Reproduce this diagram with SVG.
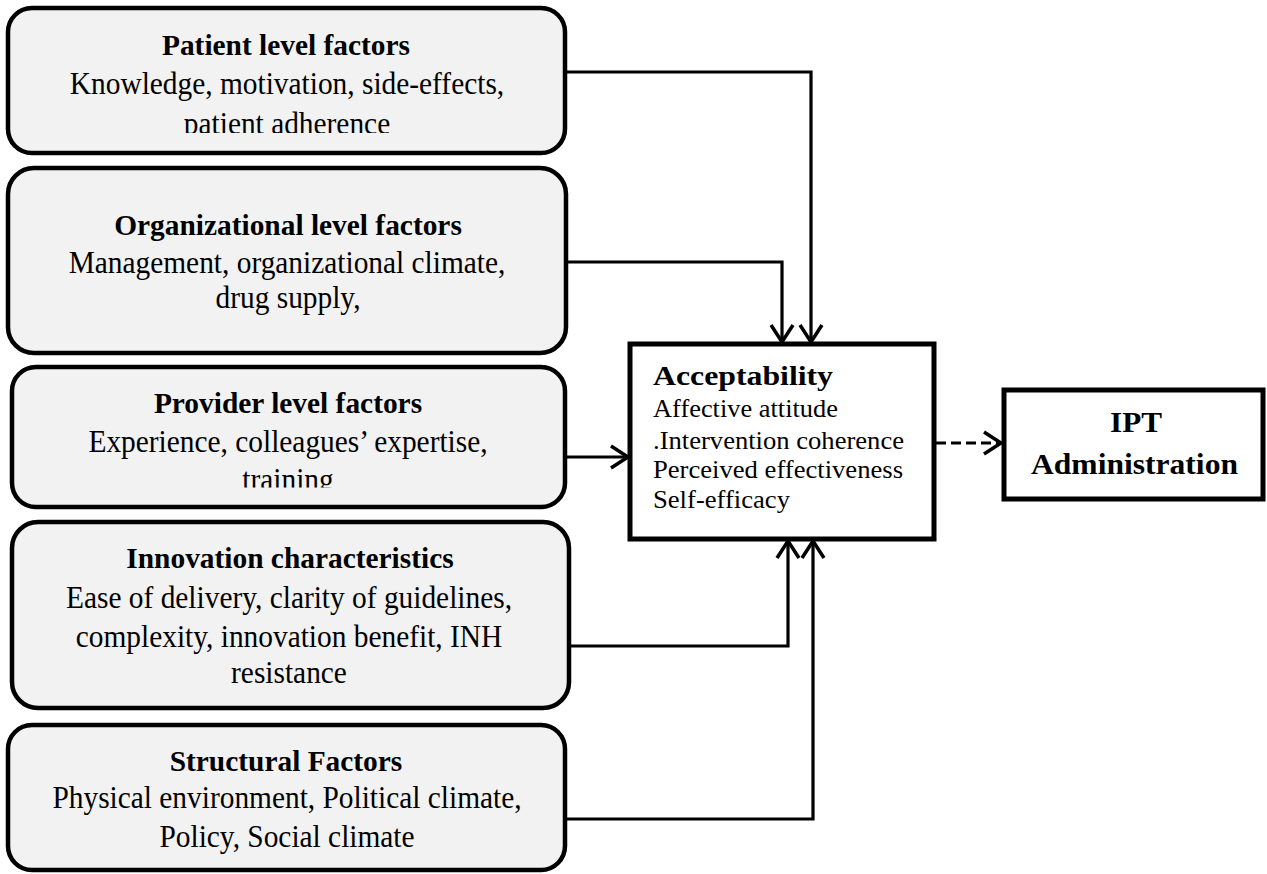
<svg xmlns="http://www.w3.org/2000/svg" width="1267" height="874" viewBox="0 0 1267 874">
<style>
.box{fill:#f2f2f2;stroke:#000;stroke-width:4.5}
.rbox{fill:#fff;stroke:#000;stroke-width:5}
.t{font-family:"Liberation Serif","Times New Roman",serif;font-size:29.4px;fill:#000;text-anchor:middle}
.b{font-weight:bold}
.a{font-family:"Liberation Serif","Times New Roman",serif;font-size:25px;fill:#000}
.c{fill:none;stroke:#000;stroke-width:3.2}
</style>
<defs>
<marker id="arr" markerWidth="24" markerHeight="26" refX="19" refY="13" orient="auto" markerUnits="userSpaceOnUse">
<path d="M2,2 L19,13 L2,24" fill="none" stroke="#000" stroke-width="3.5"/>
</marker>
<clipPath id="clip1"><rect x="0" y="0" width="600" height="133"/></clipPath>
<clipPath id="clip3"><rect x="0" y="360" width="600" height="127.5"/></clipPath>
</defs>
<g id="connectors">
<path class="c" d="M565,72 H811 V342" marker-end="url(#arr)"/>
<path class="c" d="M565,262 H782 V342" marker-end="url(#arr)"/>
<path class="c" d="M565,457 H628" marker-end="url(#arr)"/>
<path class="c" d="M567,646 H788 V541" marker-end="url(#arr)"/>
<path class="c" d="M565,819 H813 V541" marker-end="url(#arr)"/>
<path class="c" d="M936,443 H1001" stroke-width="4" stroke-dasharray="10,5" marker-end="url(#arr)"/>
</g>
<g id="patient">
<rect class="box" x="8" y="8" width="557" height="145" rx="24"/>
<text class="t b" x="286" y="55">Patient level factors</text>
<g clip-path="url(#clip1)">
<text class="t" transform="translate(287,94) scale(1,1.08)">Knowledge, motivation, side-effects,</text>
<text class="t" transform="translate(287,134) scale(1,1.08)">patient adherence</text>
</g>
</g>
<g id="organizational">
<rect class="box" x="8" y="168" width="558" height="185" rx="26"/>
<text class="t b" x="288" y="235">Organizational level factors</text>
<text class="t" transform="translate(287,273) scale(1,1.08)">Management, organizational climate,</text>
<text class="t" transform="translate(288,308) scale(1,1.08)">drug supply,</text>
</g>
<g id="provider">
<rect class="box" x="12" y="367" width="553" height="140" rx="24"/>
<text class="t b" x="288" y="413">Provider level factors</text>
<text class="t" transform="translate(288,452) scale(1,1.08)">Experience, colleagues’ expertise,</text>
<g clip-path="url(#clip3)">
<text class="t" transform="translate(288,490) scale(1,1.08)">training</text>
</g>
</g>
<g id="innovation">
<rect class="box" x="12" y="522" width="557" height="186" rx="26"/>
<text class="t b" x="290" y="568">Innovation characteristics</text>
<text class="t" transform="translate(289,608) scale(1,1.08)">Ease of delivery, clarity of guidelines,</text>
<text class="t" transform="translate(289,647) scale(1,1.08)">complexity, innovation benefit, INH</text>
<text class="t" transform="translate(289,683) scale(1,1.08)">resistance</text>
</g>
<g id="structural">
<rect class="box" x="8" y="725" width="557" height="145" rx="24"/>
<text class="t b" x="286" y="771">Structural Factors</text>
<text class="t" transform="translate(287,808) scale(1,1.08)">Physical environment, Political climate,</text>
<text class="t" transform="translate(287,847) scale(1,1.08)">Policy, Social climate</text>
</g>
<g id="acceptability">
<rect class="rbox" x="630" y="344" width="304" height="195"/>
<text class="a b" x="653" y="385" style="font-size:28px" textLength="180" lengthAdjust="spacingAndGlyphs">Acceptability</text>
<text class="a" x="653" y="417" textLength="185" lengthAdjust="spacingAndGlyphs">Affective attitude</text>
<text class="a" x="653" y="449" textLength="251" lengthAdjust="spacingAndGlyphs">.Intervention coherence</text>
<text class="a" x="653" y="478" textLength="250" lengthAdjust="spacingAndGlyphs">Perceived effectiveness</text>
<text class="a" x="653" y="508" textLength="137" lengthAdjust="spacingAndGlyphs">Self-efficacy</text>
</g>
<g id="ipt">
<rect class="rbox" x="1004" y="390" width="259" height="109"/>
<text class="a b" x="1110" y="432" style="font-size:29px" textLength="52" lengthAdjust="spacingAndGlyphs">IPT</text>
<text class="a b" x="1031" y="474" style="font-size:29px" textLength="207" lengthAdjust="spacingAndGlyphs">Administration</text>
</g>
</svg>
